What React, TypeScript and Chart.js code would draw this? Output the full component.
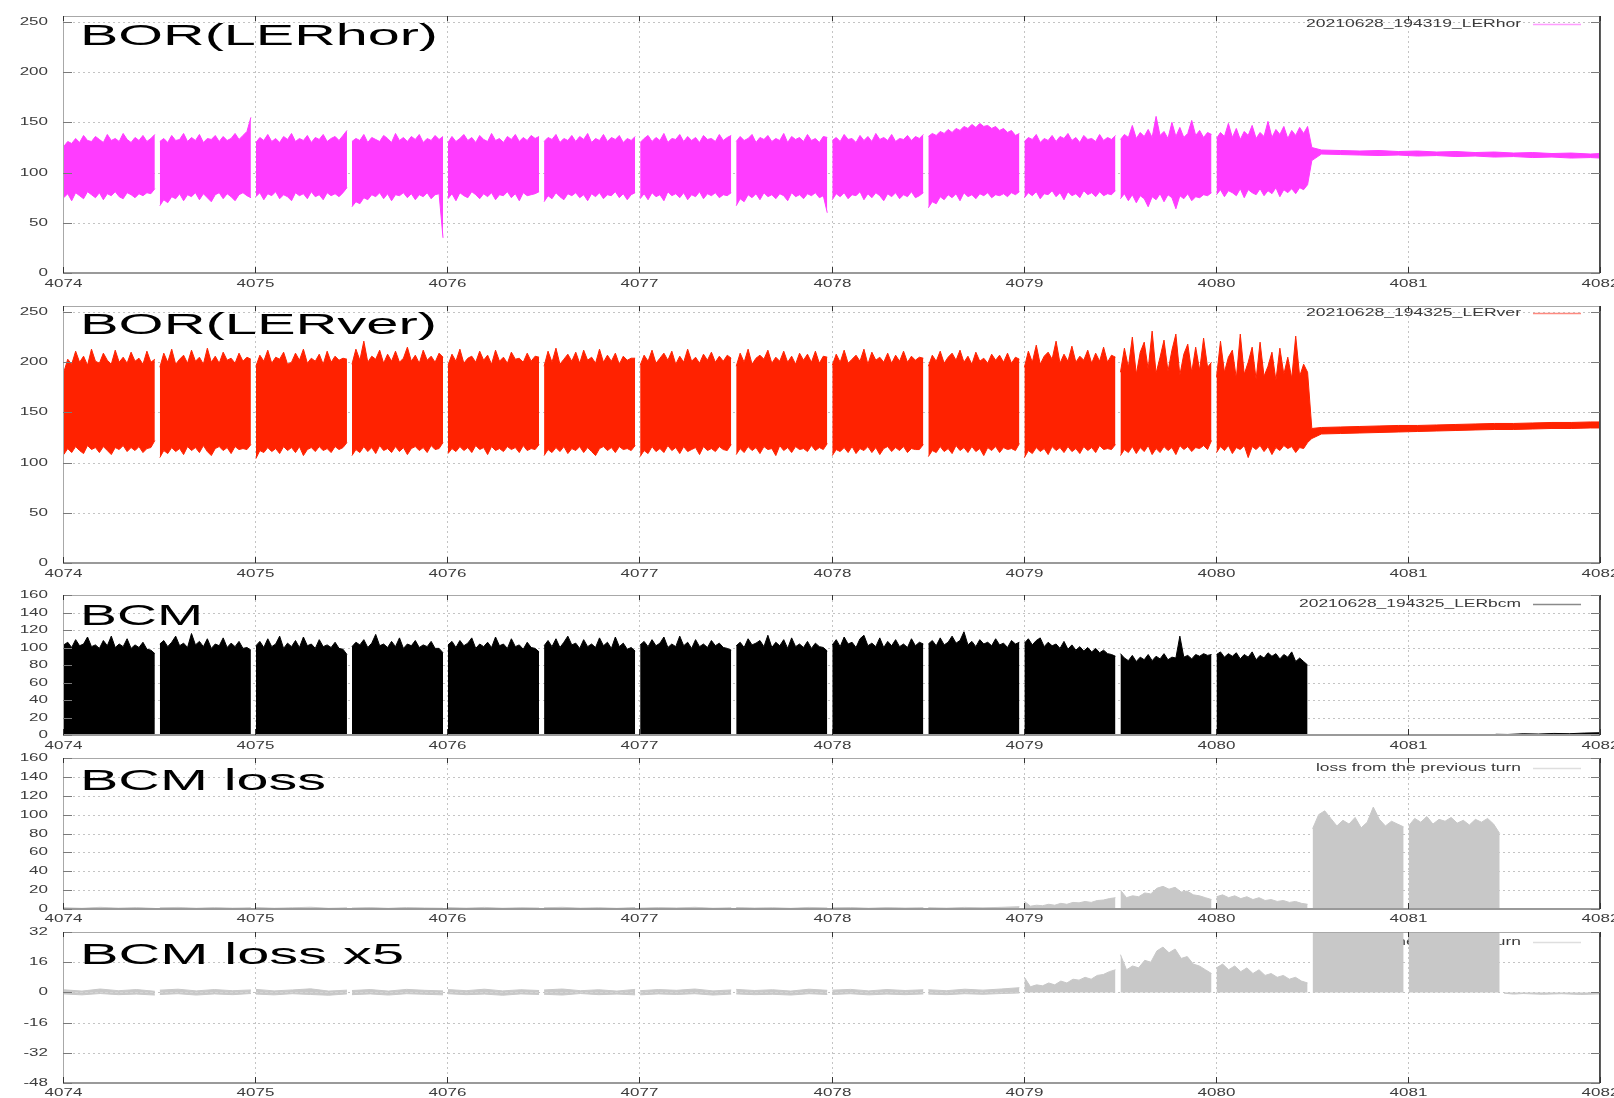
import { useEffect, useRef } from "react";
import { Chart, registerables } from "chart.js";

Chart.register(...registerables);

// ---------------- DATA ----------------
const X_TICKS = [4074, 4075, 4076, 4077, 4078, 4079, 4080, 4081, 4082];
const BOR_TICKS = [0, 50, 100, 150, 200, 250];
const BCM_TICKS = [0, 20, 40, 60, 80, 100, 120, 140, 160];
const X5_TICKS = [-48, -32, -16, 0, 16, 32];

const LEGEND_HOR = "20210628_194319_LERhor";
const LEGEND_VER = "20210628_194325_LERver";
const LEGEND_BCM = "20210628_194325_LERbcm";
const LEGEND_LOSS = "loss from the previous turn";

// start of each bunch-train segment (turn number)
const SEG_START = [4074.0, 4074.5, 4075.0, 4075.5, 4076.0, 4076.5, 4077.0, 4077.5, 4078.0, 4078.5, 4079.0, 4079.5, 4080.0];
const LOSS_SEG_START = [4074.0, 4074.5, 4075.0, 4075.5, 4076.0, 4076.5, 4077.0, 4077.5, 4078.0, 4078.5, 4079.0, 4079.5, 4080.0, 4080.5, 4081.0];

// BOR horizontal: upper / lower envelope per segment
const HOR_TOP = [
  [126, 131, 129, 134, 130, 137, 132, 131, 136, 133, 130, 138, 132, 134, 131, 139, 133, 130, 135, 132, 137, 131, 134, 138],
  [131, 134, 130, 137, 132, 133, 139, 131, 135, 132, 138, 130, 134, 133, 137, 131, 136, 132, 134, 139, 133, 137, 141, 155],
  [130, 135, 132, 138, 131, 134, 130, 136, 133, 139, 131, 134, 132, 137, 130, 135, 133, 138, 131, 134, 136, 132, 137, 142],
  [131, 134, 132, 138, 130, 135, 133, 131, 137, 134, 130, 139, 132, 135, 131, 136, 133, 138, 130, 134, 132, 137, 133, 136],
  [130, 136, 131, 134, 138, 132, 135, 130, 137, 133, 131, 139, 132, 134, 130, 136, 133, 138, 131, 135, 132, 137, 134, 136],
  [131, 135, 133, 138, 130, 134, 132, 137, 131, 136, 133, 139, 130, 134, 132, 138, 131, 135, 133, 137, 130, 134, 132, 136],
  [130, 134, 137, 131, 135, 132, 139, 130, 134, 133, 138, 131, 136, 132, 135, 130, 137, 133, 134, 131, 138, 132, 135, 137],
  [131, 136, 132, 134, 138, 130, 135, 133, 137, 131, 134, 132, 139, 130, 136, 133, 135, 131, 138, 132, 134, 130, 136, 135],
  [132, 135, 131, 138, 133, 134, 130, 137, 132, 136, 131, 139, 133, 135, 132, 138, 131, 134, 133, 137, 132, 136, 134, 138],
  [136, 139, 137, 141, 139, 143, 140, 144, 142, 146, 144, 148, 145, 149, 146, 147, 144, 146, 142, 144, 140, 142, 137, 139],
  [131, 135, 133, 138, 130, 134, 132, 137, 131, 136, 134, 139, 132, 135, 130, 137, 133, 134, 131, 138, 132, 135, 133, 137],
  [133, 138, 135, 147, 134, 140, 136, 143, 135, 156, 137, 141, 134, 150, 136, 145, 135, 139, 152, 137, 142, 135, 140, 138],
  [134, 140, 136, 149, 135, 144, 133, 141, 137, 147, 134, 140, 136, 151, 135, 143, 138, 146, 134, 142, 137, 145, 139, 146],
];
const HOR_BOT = [
  [75, 79, 72, 80, 77, 74, 81, 78, 75, 80, 73, 79, 77, 81, 76, 74, 80, 78, 75, 79, 77, 80, 79, 84],
  [67, 73, 70, 76, 74, 79, 72, 78, 76, 80, 73, 79, 75, 71, 78, 80, 74, 79, 76, 72, 78, 80, 77, 75],
  [76, 80, 73, 79, 77, 81, 74, 78, 76, 72, 80, 77, 79, 74, 81, 76, 78, 73, 80, 77, 79, 76, 80, 85],
  [66, 71, 69, 75, 73, 78, 76, 80, 74, 79, 72, 78, 77, 80, 75, 79, 73, 78, 76, 80, 74, 78, 79, 35],
  [74, 79, 72, 80, 77, 75, 81, 78, 74, 79, 76, 80, 73, 78, 77, 81, 75, 79, 72, 80, 77, 78, 79, 81],
  [71, 77, 74, 80, 76, 73, 79, 77, 80, 75, 78, 72, 79, 76, 80, 74, 78, 77, 81, 75, 79, 73, 78, 80],
  [74, 79, 73, 80, 76, 78, 72, 81, 77, 79, 75, 80, 73, 78, 76, 81, 74, 79, 77, 80, 75, 78, 77, 80],
  [67, 74, 71, 78, 75, 79, 73, 80, 76, 78, 74, 79, 77, 72, 80, 76, 78, 74, 79, 77, 80, 75, 77, 60],
  [73, 79, 76, 80, 74, 78, 77, 81, 73, 79, 75, 80, 77, 72, 79, 76, 80, 74, 78, 76, 81, 75, 77, 80],
  [65, 71, 69, 76, 73, 78, 75, 79, 72, 80, 76, 78, 74, 79, 77, 80, 75, 78, 77, 79, 76, 80, 78, 81],
  [75, 80, 77, 81, 74, 79, 78, 82, 76, 80, 73, 81, 77, 79, 75, 82, 78, 80, 76, 81, 77, 79, 78, 82],
  [74, 79, 72, 78, 70, 77, 74, 66, 76, 73, 79, 71, 78, 75, 64, 77, 74, 79, 72, 76, 75, 78, 77, 80],
  [78, 83, 76, 82, 80, 77, 84, 75, 83, 80, 78, 84, 77, 82, 79, 85, 76, 83, 80, 84, 79, 85, 83, 88],
];

// BOR vertical
const VER_TOP = [
  [190, 203, 198, 211, 200, 206, 197, 213, 201, 199, 209, 202, 198, 212, 200, 205, 199, 210, 201, 204, 198, 211, 200, 203],
  [195, 209, 200, 213, 198, 203, 207, 199, 212, 201, 205, 198, 214, 200, 206, 199, 210, 202, 204, 199, 209, 201, 205, 203],
  [196, 207, 201, 212, 199, 205, 203, 210, 198, 200, 209, 202, 213, 199, 204, 201, 208, 198, 211, 200, 206, 202, 204, 203],
  [198, 213, 202, 221, 200, 206, 203, 212, 199, 208, 201, 211, 200, 204, 215, 201, 207, 199, 212, 202, 206, 200, 209, 205],
  [197, 208, 201, 213, 199, 204, 206, 200, 211, 202, 207, 198, 212, 201, 205, 199, 210, 203, 204, 200, 209, 201, 206, 205],
  [196, 211, 200, 214, 198, 203, 208, 201, 210, 199, 212, 202, 205, 199, 213, 200, 207, 201, 209, 198, 206, 202, 204, 204],
  [197, 207, 201, 212, 199, 204, 209, 202, 211, 198, 206, 200, 213, 201, 205, 199, 208, 202, 210, 200, 206, 201, 207, 204],
  [196, 209, 200, 213, 198, 204, 207, 203, 212, 199, 205, 201, 211, 200, 206, 198, 209, 202, 208, 200, 211, 199, 206, 205],
  [197, 208, 200, 212, 199, 203, 207, 201, 213, 198, 210, 202, 205, 200, 209, 199, 207, 201, 211, 200, 206, 202, 205, 204],
  [196, 207, 201, 211, 199, 205, 209, 202, 212, 200, 206, 198, 210, 201, 204, 199, 208, 202, 207, 200, 209, 199, 205, 203],
  [195, 211, 200, 217, 198, 206, 210, 203, 221, 199, 208, 201, 216, 200, 206, 202, 212, 199, 209, 201, 215, 200, 207, 205],
  [190, 214, 195, 225, 188, 210, 220, 193, 231, 189, 205, 222, 191, 212, 228, 187, 208, 218, 190, 215, 192, 224, 195, 200],
  [185, 221, 190, 205, 212, 184, 228, 188, 200, 215, 183, 220, 186, 196, 210, 182, 214, 188, 205, 184, 226, 186, 198, 190],
];
const VER_BOT = [
  [108, 114, 110, 116, 112, 109, 117, 113, 115, 110, 116, 112, 108, 115, 113, 117, 111, 115, 112, 116, 110, 114, 115, 122],
  [105, 112, 109, 115, 111, 114, 108, 116, 112, 115, 110, 117, 111, 107, 114, 116, 112, 115, 109, 116, 113, 114, 113, 118],
  [104, 112, 110, 115, 111, 114, 109, 116, 112, 115, 110, 116, 107, 113, 115, 111, 116, 112, 114, 110, 116, 113, 115, 120],
  [107, 113, 110, 116, 111, 115, 109, 117, 112, 114, 110, 116, 111, 115, 108, 114, 116, 112, 115, 110, 117, 113, 114, 120],
  [109, 114, 111, 116, 112, 115, 110, 117, 113, 115, 108, 116, 112, 114, 111, 116, 113, 115, 110, 117, 112, 114, 113, 118],
  [107, 113, 110, 115, 111, 116, 109, 114, 112, 116, 110, 115, 111, 107, 114, 116, 112, 115, 110, 116, 113, 114, 112, 117],
  [106, 112, 109, 116, 111, 114, 110, 117, 112, 115, 109, 116, 111, 113, 115, 108, 116, 112, 114, 111, 116, 113, 112, 118],
  [108, 114, 110, 116, 112, 115, 109, 116, 113, 114, 107, 117, 112, 115, 110, 116, 113, 114, 111, 117, 112, 115, 113, 119],
  [107, 113, 111, 115, 110, 116, 109, 114, 112, 116, 110, 115, 108, 114, 116, 111, 115, 112, 116, 110, 114, 113, 113, 118],
  [106, 112, 110, 116, 111, 114, 109, 117, 112, 115, 110, 116, 111, 114, 107, 115, 112, 116, 110, 115, 113, 114, 112, 119],
  [105, 112, 109, 115, 111, 114, 108, 116, 112, 115, 110, 116, 111, 114, 109, 116, 112, 115, 110, 117, 113, 114, 113, 118],
  [107, 113, 110, 116, 109, 115, 111, 117, 108, 114, 110, 116, 112, 115, 108, 117, 113, 116, 111, 115, 114, 117, 113, 122],
  [110, 116, 112, 117, 109, 115, 113, 117, 105, 116, 113, 117, 111, 116, 108, 115, 112, 117, 114, 116, 110, 115, 114, 120],
];

// tails after injection stops
const BOR_TAIL_X = [4080.5, 4080.55, 4080.65, 4080.75, 4080.85, 4080.95, 4081.05, 4081.15, 4081.25, 4081.35, 4081.45, 4081.55, 4081.65, 4081.75, 4081.85, 4081.95, 4082.0];
const HOR_TAIL_TOP = [125, 122.5, 122, 121.5, 122, 121, 121.5, 120.5, 121, 120, 120.5, 119.5, 120, 119, 119.5, 118.5, 119];
const HOR_TAIL_BOT = [112, 118.5, 118, 117.5, 117, 117.5, 116.5, 117, 116, 116.5, 115.5, 116, 115, 115.5, 114.5, 115, 114.5];
const VER_TAIL_TOP = [134, 135, 135.5, 136, 136.5, 137, 137, 137.5, 138, 138.5, 139, 139, 139.5, 140, 140, 140.5, 140.5];
const VER_TAIL_BOT = [124, 128.5, 129, 129.5, 130, 130.5, 131, 131.5, 132, 132.5, 133, 133, 133.5, 134, 134, 134.5, 134.5];

// BCM
const BCM_TOP = [
  [103, 106, 100, 109, 102, 104, 112, 101, 103, 99, 108, 102, 113, 100, 104, 101, 110, 99, 103, 100, 106, 98, 97, 93],
  [104, 108, 101, 106, 113, 102, 105, 100, 116, 103, 107, 101, 110, 99, 104, 102, 111, 100, 105, 101, 107, 99, 100, 97],
  [102, 107, 100, 110, 101, 104, 113, 99, 105, 101, 108, 100, 112, 102, 104, 99, 109, 101, 103, 100, 106, 99, 98, 92],
  [101, 106, 103, 109, 100, 105, 115, 102, 104, 100, 107, 101, 111, 99, 104, 102, 108, 100, 103, 101, 107, 99, 99, 94],
  [103, 107, 100, 108, 102, 105, 111, 99, 104, 101, 106, 100, 112, 102, 104, 99, 110, 101, 103, 98, 106, 100, 99, 95],
  [102, 108, 101, 110, 100, 106, 113, 103, 105, 99, 109, 101, 104, 100, 111, 102, 106, 99, 112, 101, 105, 98, 100, 96],
  [103, 107, 101, 109, 102, 105, 112, 100, 104, 101, 113, 102, 106, 99, 109, 101, 104, 100, 108, 102, 105, 100, 99, 97],
  [102, 106, 100, 110, 103, 105, 108, 101, 114, 100, 106, 102, 109, 99, 111, 101, 104, 100, 107, 99, 105, 101, 100, 96],
  [103, 109, 101, 112, 104, 106, 100, 110, 114, 102, 105, 101, 111, 100, 107, 102, 109, 101, 104, 100, 110, 102, 106, 104],
  [104, 108, 102, 111, 103, 106, 113, 105, 108, 118, 103, 107, 101, 109, 104, 106, 102, 110, 103, 105, 100, 108, 104, 106],
  [105, 110, 103, 108, 111, 101, 106, 102, 104, 99, 107, 98, 103, 97, 101, 96, 100, 95, 99, 94, 97, 93, 92, 90],
  [93, 88, 85, 91, 84, 89, 86, 92, 85, 90, 87, 93, 86, 89, 88, 113, 89, 91, 87, 92, 90, 93, 91, 92],
  [92, 95, 89, 93, 90, 94, 87, 92, 89, 95, 86, 91, 88, 94, 90, 93, 87, 92, 89, 95, 84, 88, 84, 80],
];
const BCM_TAIL_X = [4081.44, 4081.46, 4081.52, 4081.6, 4081.68, 4081.76, 4081.84, 4081.92, 4082.0];
const BCM_TAIL = [0, 0.8, 0.6, 1.4, 1.1, 1.8, 1.5, 2.2, 2.6];

// BCM loss from the previous turn (positive and negative parts)
const LOSS_POS = [
  [1.4, 0.7, 1.8, 0.9, 1.5, 0.6],
  [1.2, 1.7, 0.8, 1.5, 0.9, 1.3],
  [1.6, 0.8, 1.3, 1.9, 0.7, 1.2],
  [1.0, 1.5, 0.7, 1.6, 1.1, 0.8],
  [1.5, 0.9, 1.7, 0.8, 1.4, 1.0],
  [1.3, 1.8, 0.9, 1.4, 0.7, 1.6],
  [0.9, 1.5, 1.1, 1.8, 0.8, 1.3],
  [1.6, 1.0, 1.4, 0.7, 1.7, 1.1],
  [1.2, 1.6, 0.8, 1.5, 1.0, 1.4],
  [1.4, 0.9, 1.7, 1.2, 1.8, 2.5],
  [8, 3, 4, 3.5, 5, 4, 6, 5, 7, 6.5, 8, 7, 9, 9.5, 11, 12],
  [20, 12, 14, 13, 17, 16, 22, 24, 21, 23, 18, 19, 15, 14, 12, 10],
  [13, 15, 12, 14, 11, 13, 10, 12, 9, 10, 8, 9, 7, 8, 6, 5],
  [85, 100, 104, 96, 88, 94, 90, 97, 86, 92, 108, 95, 88, 93, 90, 87],
  [88, 96, 92, 98, 90, 95, 93, 97, 91, 94, 89, 95, 92, 96, 90, 80],
];
const LOSS_NEG = [
  [-0.8, -1.3, -0.6, -1.2, -0.9, -1.4],
  [-1.1, -0.7, -1.4, -0.8, -1.2, -0.6],
  [-0.9, -1.3, -0.7, -1.1, -1.5, -0.8],
  [-1.2, -0.8, -1.4, -0.7, -1.0, -1.3],
  [-0.7, -1.2, -0.9, -1.5, -0.8, -1.1],
  [-1.0, -1.4, -0.6, -1.2, -0.9, -1.3],
  [-1.3, -0.8, -1.1, -0.7, -1.4, -0.9],
  [-0.8, -1.2, -1.0, -1.4, -0.7, -1.1],
  [-1.1, -0.7, -1.3, -0.9, -1.2, -0.8],
  [-0.9, -1.2, -0.7, -1.0, -0.6, -0.3],
];
const LOSS_TAIL_X = [4081.5, 4081.55, 4081.6, 4081.7, 4081.8, 4081.9, 4082.0];
const LOSS_TAIL = [-0.4, -0.9, -0.6, -1.0, -0.7, -1.1, -0.8];

// ---------------- STYLE / LAYOUT ----------------
const W = 1614;
const H = 1098;
const PLOT_LEFT = 63;
const PLOT_RIGHT = 1600;
const FONT = "'Liberation Sans', Arial, Helvetica, sans-serif";
const MAGENTA = "#ff3cff";
const RED = "#ff2200";
const GRAY = "#c8c8c8";
const GRID = "#c4c4c4";
const SEG_PAD = 0.004;
const SEG_SPAN = 0.474;
const GAP_AT = 0.49;

type Pt = { x: number; y: number | null };

function buildSegments(starts: number[], segs: number[][], closeLast: boolean): Pt[] {
  const pts: Pt[] = [];
  segs.forEach((vals, i) => {
    const n = vals.length;
    vals.forEach((v, j) => pts.push({ x: starts[i] + SEG_PAD + (SEG_SPAN * j) / (n - 1), y: v }));
    if (closeLast || i < segs.length - 1) pts.push({ x: starts[i] + GAP_AT, y: null });
  });
  return pts;
}
function pairs(xs: number[], ys: number[]): Pt[] {
  return xs.map((x, i) => ({ x, y: ys[i] }));
}

function lineDs(data: Pt[], color: string, fill: any) {
  return {
    data,
    borderColor: color,
    backgroundColor: color,
    borderWidth: 1,
    pointRadius: 0,
    tension: 0,
    fill,
    spanGaps: false,
  };
}

type PanelCfg = {
  top: number;
  bottom: number;
  yMin: number;
  yMax: number;
  yTicks: number[];
  xLabelY: number;
  title: string;
  titleY: number;
  titleW: number;
  legend: string;
  legendY: number;
  legendW: number;
  legendLine: string;
  datasets: () => any[];
};

const PANELS: PanelCfg[] = [
  {
    top: 16, bottom: 273, yMin: 0, yMax: 256, yTicks: BOR_TICKS, xLabelY: 284,
    title: "BOR(LERhor)", titleY: 45, titleW: 358,
    legend: LEGEND_HOR, legendY: 24, legendW: 215, legendLine: "#ff9cff",
    datasets: () => [
      lineDs([...buildSegments(SEG_START, HOR_TOP, false), ...pairs(BOR_TAIL_X, HOR_TAIL_TOP)], MAGENTA, "+1"),
      lineDs([...buildSegments(SEG_START, HOR_BOT, false), ...pairs(BOR_TAIL_X, HOR_TAIL_BOT)], MAGENTA, false),
    ],
  },
  {
    top: 306, bottom: 563, yMin: 0, yMax: 256, yTicks: BOR_TICKS, xLabelY: 574,
    title: "BOR(LERver)", titleY: 334, titleW: 357,
    legend: LEGEND_VER, legendY: 313, legendW: 215, legendLine: "#ff8a80",
    datasets: () => [
      lineDs([...buildSegments(SEG_START, VER_TOP, false), ...pairs(BOR_TAIL_X, VER_TAIL_TOP)], RED, "+1"),
      lineDs([...buildSegments(SEG_START, VER_BOT, false), ...pairs(BOR_TAIL_X, VER_TAIL_BOT)], RED, false),
    ],
  },
  {
    top: 595, bottom: 735, yMin: 0, yMax: 160, yTicks: BCM_TICKS, xLabelY: 746,
    title: "BCM", titleY: 625, titleW: 123,
    legend: LEGEND_BCM, legendY: 604, legendW: 222, legendLine: "#8a8a8a",
    datasets: () => [
      lineDs(buildSegments(SEG_START, BCM_TOP, true), "#000000", "origin"),
      lineDs(pairs(BCM_TAIL_X, BCM_TAIL), "#000000", "origin"),
    ],
  },
  {
    top: 758, bottom: 909, yMin: 0, yMax: 160, yTicks: BCM_TICKS, xLabelY: 919,
    title: "BCM loss", titleY: 790, titleW: 246,
    legend: LEGEND_LOSS, legendY: 768, legendW: 205, legendLine: "#dedede",
    datasets: () => [
      lineDs(buildSegments(LOSS_SEG_START, LOSS_POS, true), GRAY, "origin"),
      lineDs(buildSegments(LOSS_SEG_START, LOSS_NEG, true), GRAY, "origin"),
      lineDs(pairs(LOSS_TAIL_X, LOSS_TAIL), GRAY, "origin"),
    ],
  },
  {
    top: 932, bottom: 1083, yMin: -48, yMax: 32, yTicks: X5_TICKS, xLabelY: 1093,
    title: "BCM loss x5", titleY: 964, titleW: 324,
    legend: LEGEND_LOSS, legendY: 942, legendW: 205, legendLine: "#dedede",
    datasets: () => [
      lineDs(buildSegments(LOSS_SEG_START, LOSS_POS, true), GRAY, "origin"),
      lineDs(buildSegments(LOSS_SEG_START, LOSS_NEG, true), GRAY, "origin"),
      lineDs(pairs(LOSS_TAIL_X, LOSS_TAIL), GRAY, "origin"),
    ],
  },
];

function drawText(
  ctx: CanvasRenderingContext2D,
  text: string,
  x: number,
  y: number,
  size: number,
  color: string,
  align: "left" | "right" | "center",
  baseline: CanvasTextBaseline,
  sx: number,
  width?: number
) {
  ctx.save();
  ctx.font = `${size}px ${FONT}`;
  const w = ctx.measureText(text).width;
  const s = width ? width / w : sx;
  const tw = w * s;
  const left = align === "left" ? x : align === "right" ? x - tw : x - tw / 2;
  ctx.translate(left, y);
  ctx.scale(s, 1);
  ctx.fillStyle = color;
  ctx.textAlign = "left";
  ctx.textBaseline = baseline;
  ctx.fillText(text, 0, 0);
  ctx.restore();
}

function seg(ctx: CanvasRenderingContext2D, x1: number, y1: number, x2: number, y2: number) {
  ctx.beginPath();
  ctx.moveTo(x1, y1);
  ctx.lineTo(x2, y2);
  ctx.stroke();
}

function makePlugin(cfg: PanelCfg) {
  return {
    id: "gnuplotDecor",
    beforeDatasetsDraw(chart: any) {
      const { ctx, chartArea: a } = chart;
      const xs = chart.scales.x;
      const ys = chart.scales.y;
      ctx.save();
      ctx.strokeStyle = GRID;
      ctx.lineWidth = 1;
      ctx.setLineDash([2, 3]);
      for (const t of cfg.yTicks) {
        const py = Math.round(ys.getPixelForValue(t)) + 0.5;
        if (py <= a.top + 1.5 || py >= a.bottom - 1.5) continue;
        seg(ctx, a.left, py, a.right, py);
      }
      for (const t of X_TICKS) {
        const px = Math.round(xs.getPixelForValue(t)) + 0.5;
        if (px <= a.left + 1.5 || px >= a.right - 1.5) continue;
        seg(ctx, px, a.top, px, a.bottom);
      }
      ctx.setLineDash([]);
      // legend (drawn beneath the data, as in the original)
      drawText(ctx, cfg.legend, 1521, cfg.legendY, 11, "#3a3a3a", "right", "middle", 1.6, cfg.legendW);
      ctx.strokeStyle = cfg.legendLine;
      ctx.lineWidth = 1.5;
      seg(ctx, 1533, cfg.legendY + 0.5, 1581, cfg.legendY + 0.5);
      ctx.restore();
    },
    afterDatasetsDraw(chart: any) {
      const { ctx, chartArea: a } = chart;
      const xs = chart.scales.x;
      const ys = chart.scales.y;
      ctx.save();
      // border
      ctx.strokeStyle = "#a8a8a8";
      ctx.lineWidth = 1;
      ctx.strokeRect(a.left + 0.5, a.top + 0.5, a.right - a.left - 1, a.bottom - a.top - 1);
      ctx.strokeStyle = "#9a9a9a";
      ctx.lineWidth = 2;
      seg(ctx, a.left, a.bottom, a.right, a.bottom);
      ctx.strokeStyle = "#2a2a2a";
      ctx.lineWidth = 1.5;
      seg(ctx, a.right, a.top, a.right, a.bottom);
      // y ticks
      ctx.strokeStyle = "#7a7a7a";
      ctx.lineWidth = 1;
      for (const t of cfg.yTicks) {
        const py = Math.round(ys.getPixelForValue(t)) + 0.5;
        seg(ctx, a.left, py, a.left + 9, py);
        seg(ctx, a.right - 9, py, a.right, py);
        drawText(ctx, String(t), 48, py, 10, "#3c3c3c", "right", "middle", 1.7);
      }
      // x ticks
      ctx.strokeStyle = "#333";
      for (const t of X_TICKS) {
        const px = Math.round(xs.getPixelForValue(t)) + 0.5;
        seg(ctx, px, a.top, px, a.top + 5);
        seg(ctx, px, a.bottom - 6, px, a.bottom);
        drawText(ctx, String(t), px, cfg.xLabelY, 10, "#3c3c3c", "center", "middle", 1.7);
      }
      // panel title
      drawText(ctx, cfg.title, 80, cfg.titleY, 30, "#000", "left", "alphabetic", 1.9, cfg.titleW);
      ctx.restore();
    },
  };
}

function Panel({ cfg }: { cfg: PanelCfg }) {
  const ref = useRef<HTMLCanvasElement | null>(null);
  useEffect(() => {
    const canvas = ref.current;
    if (!canvas) return;
    const chart = new Chart(canvas, {
      type: "line",
      data: { datasets: cfg.datasets() },
      options: {
        responsive: false,
        animation: false,
        devicePixelRatio: 1,
        events: [],
        layout: {
          padding: { left: PLOT_LEFT, right: W - PLOT_RIGHT, top: cfg.top, bottom: H - cfg.bottom },
        },
        plugins: { legend: { display: false }, tooltip: { enabled: false }, title: { display: false } },
        scales: {
          x: { type: "linear", min: 4074, max: 4082, display: false },
          y: { type: "linear", min: cfg.yMin, max: cfg.yMax, display: false },
        },
      } as any,
      plugins: [makePlugin(cfg) as any],
    });
    return () => chart.destroy();
  }, [cfg]);
  return (
    <canvas
      ref={ref}
      width={W}
      height={H}
      style={{ position: "absolute", left: 0, top: 0, width: W, height: H }}
    />
  );
}

export default function App() {
  return (
    <div style={{ position: "fixed", left: 0, top: 0, width: W, height: H, background: "#fff", overflow: "hidden" }}>
      {PANELS.map((p, i) => (
        <Panel key={i} cfg={p} />
      ))}
    </div>
  );
}
